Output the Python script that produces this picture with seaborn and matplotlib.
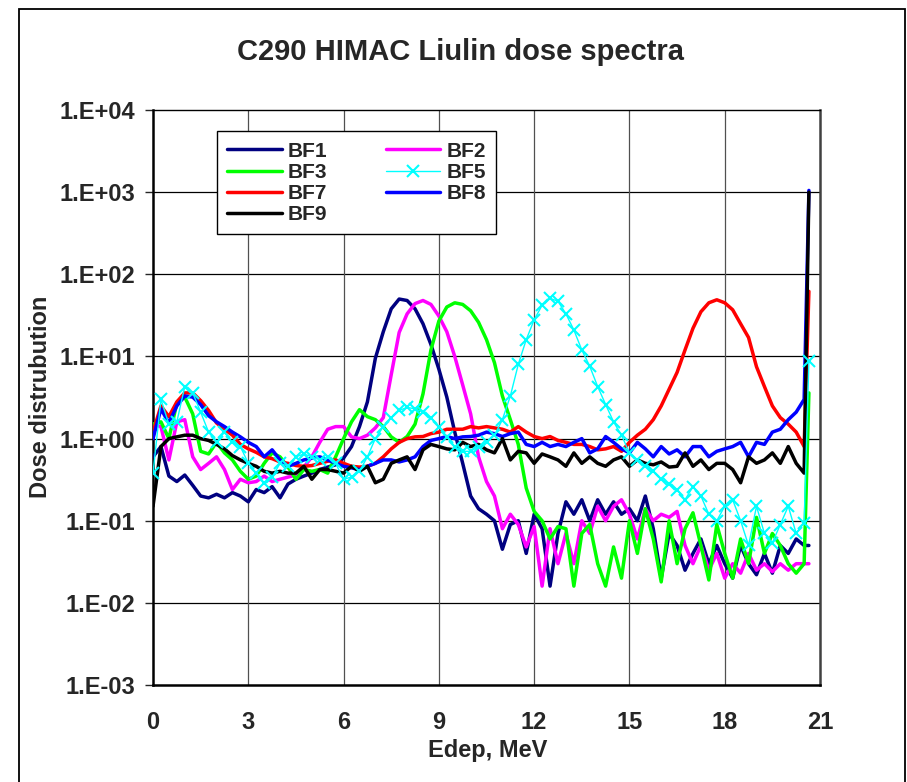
import numpy as np
import pandas as pd
import matplotlib
matplotlib.use("Agg")
import matplotlib.pyplot as plt
import seaborn as sns
from matplotlib.patches import Rectangle

# Energy channels (MeV), last point is the overflow channel
energy = np.r_[np.arange(83) * 0.25, 20.65]

bf1 = [0.6, 0.8, 0.35, 0.3,
       0.36, 0.27, 0.2, 0.19,
       0.21, 0.19, 0.22, 0.2,
       0.17, 0.24, 0.22, 0.26,
       0.19, 0.28, 0.32, 0.35,
       0.38, 0.42, 0.45, 0.48,
       0.58, 0.8, 1.4, 2.8,
       9.5, 20, 38, 50,
       48, 38, 25, 14,
       7, 3.2, 1.2, 0.5,
       0.2, 0.14, 0.12, 0.1,
       0.045, 0.09, 0.1, 0.04,
       0.12, 0.08, 0.016, 0.07,
       0.17, 0.12, 0.18, 0.1,
       0.18, 0.12, 0.17, 0.12,
       0.14, 0.1, 0.2, 0.08,
       0.02, 0.07, 0.05, 0.025,
       0.04, 0.06, 0.03, 0.05,
       0.03, 0.02, 0.05, 0.03,
       0.022, 0.04, 0.023, 0.05,
       0.04, 0.06, 0.05, 0.05]

bf2 = [1.5, 1.4, 0.55, 1.6,
       1.7, 0.6, 0.42, 0.5,
       0.6, 0.42, 0.24, 0.32,
       0.29, 0.3, 0.35, 0.3,
       0.32, 0.34, 0.36, 0.45,
       0.6, 0.9, 1.3, 1.4,
       1.4, 1.05, 1.0, 1.1,
       1.35, 1.8, 6, 19.6,
       33, 44, 48, 43,
       31, 20, 10, 4.5,
       2.0, 0.6, 0.3, 0.2,
       0.08, 0.12, 0.09, 0.048,
       0.085, 0.016, 0.08, 0.03,
       0.07, 0.03, 0.1, 0.07,
       0.15, 0.1, 0.15, 0.18,
       0.12, 0.06, 0.14, 0.1,
       0.12, 0.11, 0.13, 0.05,
       0.03, 0.05, 0.025, 0.04,
       0.02, 0.03, 0.023, 0.04,
       0.025, 0.03, 0.024, 0.03,
       0.025, 0.03, 0.03, 0.03]

bf3 = [1.5, 1.6, 1.0, 2.7,
       3.2, 2.0, 0.7, 0.65,
       0.9, 0.67, 0.55, 0.4,
       0.32, 0.35, 0.5, 0.67,
       0.6, 0.45, 0.32, 0.42,
       0.4, 0.42, 0.38, 0.6,
       1.0, 1.6, 2.25, 1.85,
       1.7, 1.4, 1.05, 0.9,
       1.06, 1.5, 3.5, 12,
       27, 40, 45, 43,
       36, 26, 16, 8.4,
       3.3, 1.7, 0.85, 0.25,
       0.13, 0.1, 0.06, 0.085,
       0.08, 0.016, 0.07, 0.09,
       0.03, 0.016, 0.048, 0.02,
       0.1, 0.04, 0.14, 0.06,
       0.018, 0.1, 0.03, 0.08,
       0.125, 0.05, 0.019, 0.09,
       0.04, 0.02, 0.06, 0.03,
       0.11, 0.04, 0.07, 0.05,
       0.03, 0.023, 0.03, 3.6]

bf5 = [0.38, 3.0, 1.5, 1.6,
       4.3, 3.6, 2.1, 1.2,
       0.9, 1.2, 0.9, 0.8,
       0.5, 0.38, 0.29, 0.34,
       0.5, 0.46, 0.6, 0.65,
       0.6, 0.55, 0.6, 0.5,
       0.32, 0.34, 0.4, 0.6,
       1.0, 1.4, 1.8, 2.2,
       2.4, 2.3, 2.1, 1.8,
       1.4, 1.06, 0.8, 0.7,
       0.7, 0.8, 0.9, 1.1,
       1.7, 3.3, 8, 16,
       28, 42, 51, 47,
       33, 21, 12, 7.6,
       4.3, 2.6, 1.6, 1.1,
       0.67, 0.55, 0.46, 0.4,
       0.32, 0.28, 0.24, 0.18,
       0.26, 0.2, 0.12, 0.1,
       0.15, 0.18, 0.1, 0.05,
       0.15, 0.07, 0.054, 0.09,
       0.15, 0.07, 0.095, 8.7]

bf7 = [1.2, 2.5, 1.85, 2.8,
       3.6, 3.6, 2.9, 2.2,
       1.55, 1.3, 1.1, 0.85,
       0.75, 0.68, 0.6, 0.57,
       0.52, 0.5, 0.47, 0.46,
       0.47, 0.5, 0.53, 0.55,
       0.5, 0.46, 0.45, 0.46,
       0.5, 0.6, 0.75, 0.9,
       1.0, 1.05, 1.06, 1.15,
       1.2, 1.3, 1.3, 1.3,
       1.4, 1.35, 1.4, 1.35,
       1.3, 1.2, 1.4, 1.2,
       1.06, 1.0, 1.06, 0.95,
       0.9, 0.85, 0.85, 0.8,
       0.73, 0.75, 0.8, 0.7,
       0.9, 1.1, 1.3, 1.7,
       2.5, 4, 6.4, 12,
       22, 35, 45, 49,
       45, 37, 25, 17,
       7.5, 4.3, 2.5, 1.8,
       1.5, 1.2, 0.8, 62]

bf8 = [1.0, 2.3, 1.55, 2.5,
       3.3, 3.2, 2.6, 1.9,
       1.6, 1.4, 1.2, 1.05,
       0.9, 0.8, 0.6, 0.73,
       0.55, 0.46, 0.5, 0.55,
       0.58, 0.6, 0.55, 0.5,
       0.46, 0.44, 0.42, 0.46,
       0.5, 0.55, 0.55, 0.52,
       0.55, 0.6, 0.8, 0.95,
       1.0, 1.06, 1.0, 1.05,
       1.06, 1.1, 1.2, 1.15,
       1.06, 1.15, 1.2, 0.85,
       0.8, 0.9, 0.8, 0.85,
       0.8, 0.9, 1.0, 0.67,
       0.75, 1.06, 0.9, 0.75,
       0.67, 0.9, 0.75, 0.6,
       0.8, 0.65, 0.73, 0.6,
       0.8, 0.8, 0.6, 0.7,
       0.75, 0.8, 0.9, 0.6,
       0.9, 0.85, 1.2, 1.3,
       1.7, 2.1, 3.0, 1050]

bf9 = [0.15, 0.8, 1.0, 1.05,
       1.1, 1.1, 1.0, 0.95,
       0.85, 0.75, 0.62, 0.55,
       0.5, 0.46, 0.4, 0.38,
       0.4, 0.38, 0.38, 0.46,
       0.32, 0.42, 0.42, 0.4,
       0.38, 0.46, 0.4, 0.46,
       0.29, 0.32, 0.5, 0.55,
       0.6, 0.42, 0.73, 0.85,
       0.8, 0.75, 0.73, 0.9,
       0.8, 0.85, 0.73, 0.67,
       1.0, 0.55, 0.7, 0.67,
       0.5, 0.65, 0.6, 0.55,
       0.46, 0.67, 0.5, 0.6,
       0.5, 0.46, 0.55, 0.6,
       0.46, 0.55, 0.5, 0.48,
       0.52, 0.45, 0.46, 0.67,
       0.46, 0.55, 0.42, 0.5,
       0.5, 0.42, 0.29, 0.6,
       0.5, 0.55, 0.67, 0.5,
       0.8, 0.5, 0.38, 1000]

series = {"BF1": bf1, "BF2": bf2, "BF3": bf3, "BF5": bf5,
          "BF7": bf7, "BF8": bf8, "BF9": bf9}
colors = {"BF1": "#000080", "BF2": "#ff00ff", "BF3": "#00ff00", "BF5": "#00ffff",
          "BF7": "#ff0000", "BF8": "#0000ff", "BF9": "#000000"}
legend_order = ["BF1", "BF3", "BF7", "BF9", "BF2", "BF5", "BF8"]
y_ticks = [1e-3, 1e-2, 1e-1, 1e0, 1e1, 1e2, 1e3, 1e4]
y_labels = ["1.E-03", "1.E-02", "1.E-01", "1.E+00", "1.E+01", "1.E+02", "1.E+03", "1.E+04"]
x_ticks = [0, 3, 6, 9, 12, 15, 18, 21]

sns.set_style("white")
plt.rcParams["font.family"] = ["Liberation Sans", "DejaVu Sans"]
plt.rcParams["font.weight"] = "bold"

fig = plt.figure(figsize=(9.07, 7.82), dpi=100)
ax = fig.add_axes([0.1687, 0.1240, 0.7354, 0.7353])

for name, vals in series.items():
    if name == "BF5":
        sns.lineplot(x=energy, y=vals, ax=ax, color=colors[name], lw=1.0,
                     marker="x", markersize=8, markeredgewidth=1.5,
                     markeredgecolor=colors[name], label=name, estimator=None,
                     sort=False, zorder=4)
    else:
        sns.lineplot(x=energy, y=vals, ax=ax, color=colors[name], lw=2.5,
                     label=name, estimator=None, sort=False, zorder=3)

ax.set_yscale("log")
ax.set_ylim(1e-3, 1e4)
ax.set_xlim(0, 21)
ax.set_yticks(y_ticks)
ax.set_yticklabels(y_labels)
ax.yaxis.set_minor_locator(matplotlib.ticker.NullLocator())
ax.set_xticks(x_ticks)
ax.set_xticklabels([str(t) for t in x_ticks])
ax.tick_params(axis="y", direction="out", length=6, width=1, pad=7,
               labelsize=17, left=True)
ax.tick_params(axis="x", length=0, pad=19, labelsize=17)
for lab in ax.get_xticklabels() + ax.get_yticklabels():
    lab.set_fontweight("bold")

ax.grid(False)
for y in y_ticks[1:-1]:
    ax.axhline(y, color="black", lw=0.9, zorder=1)
for x in x_ticks[1:-1]:
    ax.axvline(x, color="#505050", lw=0.9, zorder=1)

for side in ["left", "bottom"]:
    ax.spines[side].set_color("black")
    ax.spines[side].set_linewidth(1.8)
ax.spines["top"].set_color("black")
ax.spines["top"].set_linewidth(1.0)
ax.spines["right"].set_color("#404040")
ax.spines["right"].set_linewidth(1.8)
ax.set_xlabel("")
ax.set_ylabel("")

handles, labels = ax.get_legend_handles_labels()
hmap = dict(zip(labels, handles))
leg = ax.legend([hmap[k] for k in legend_order], legend_order, ncol=2,
                loc="upper left", bbox_to_anchor=(0.096, 0.963),
                borderaxespad=0, frameon=True, fancybox=False,
                edgecolor="black", framealpha=1,
                prop={"family": ["Liberation Sans Narrow", "Liberation Sans"],
                      "weight": "bold", "size": 15},
                handlelength=2.6, handletextpad=0.3, columnspacing=2.8,
                labelspacing=0.1, borderpad=0.5)
leg.get_frame().set_linewidth(1.0)

fig.text(0.508, 0.934, "C290 HIMAC Liulin dose spectra", ha="center", va="center",
         fontsize=21, fontweight="bold")
fig.text(0.538, 0.040, "Edep, MeV", ha="center", va="center",
         fontsize=17, fontweight="bold")
fig.text(0.045, 0.492, "Dose distrubution", ha="center", va="center",
         rotation=90, fontsize=17, fontweight="bold")

fig.patches.append(Rectangle((0.021, -0.01), 0.977, 0.998, transform=fig.transFigure,
                             fill=False, edgecolor="black", lw=1.3))

fig.savefig("out.png", dpi=100)
